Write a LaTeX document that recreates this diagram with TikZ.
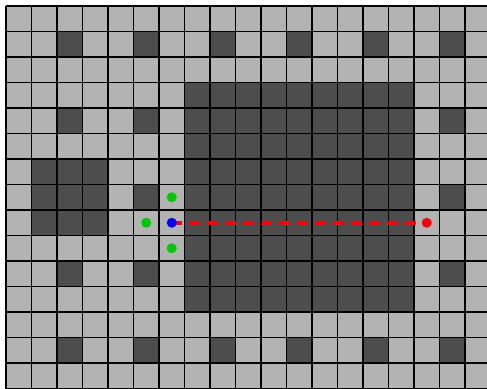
\documentclass[tikz,border=0pt]{standalone}
\definecolor{lightc}{RGB}{179,179,179}
\definecolor{darkc}{RGB}{77,77,77}
\definecolor{greenc}{RGB}{0,200,0}
\definecolor{bluec}{RGB}{0,0,255}
\definecolor{redc}{RGB}{255,0,0}
\tikzset{
  gridline/.style={black, line width=1.4pt},
  darkcell/.style={fill=darkc},
  dot/.style={circle, inner sep=0pt, minimum size=10pt},
  pathline/.style={redc, line width=4pt, dash pattern=on 10pt off 8pt}
}
\begin{document}
\begin{tikzpicture}[x=1pt,y=-1pt]
\useasboundingbox (0,0) rectangle (487,388);
\fill[white] (0,0) rectangle (487,388);
\begin{scope}
\clip (0,0) rectangle (487,388);
\fill[lightc] (6,6) rectangle (490.5,388.5);
% single dark cells
\foreach \c in {2,5,8,11,14,17}{
  \foreach \r in {1,4,7,10,13}{
    \fill[darkc] ({6+25.5*\c},{6+25.5*\r}) rectangle ++(25.5,25.5);
  }
}
% big block
\fill[darkc] ({6+25.5*7},{6+25.5*3}) rectangle ({6+25.5*16},{6+25.5*12});
% small block
\fill[darkc] ({6+25.5*1},{6+25.5*6}) rectangle ({6+25.5*4},{6+25.5*9});
% grid lines
\foreach \c in {0,...,19}{
  \draw[gridline] ({6+25.5*\c},6) -- ({6+25.5*\c},390);
}
\foreach \r in {0,...,15}{
  \draw[gridline] (6,{6+25.5*\r}) -- (490,{6+25.5*\r});
}
\end{scope}
\coordinate (start) at ({6+25.5*6.5},{6+25.5*8.5});
\coordinate (goal) at ({6+25.5*16.5},{6+25.5*8.5});
\draw[pathline] (start) -- (goal);
\node[dot, fill=greenc] (g1) at ({6+25.5*6.5},{6+25.5*7.5}) {};
\node[dot, fill=greenc] (g2) at ({6+25.5*5.5},{6+25.5*8.5}) {};
\node[dot, fill=greenc] (g3) at ({6+25.5*6.5},{6+25.5*9.5}) {};
\node[dot, fill=bluec] (b) at (start) {};
\node[dot, fill=redc] (r) at (goal) {};
\end{tikzpicture}
\end{document}
